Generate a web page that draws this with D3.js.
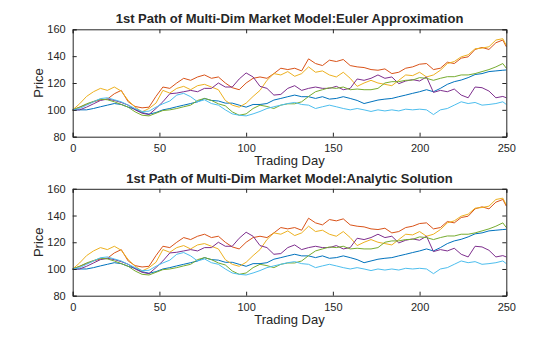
<!DOCTYPE html>
<html><head><meta charset="utf-8">
<script src="https://cdn.jsdelivr.net/npm/d3@7"></script>
<style>
html,body{margin:0;padding:0;background:#fff;}
svg{display:block;font-family:"Liberation Sans",Arial,Helvetica,sans-serif;}
</style></head>
<body>
<svg id="chart" width="560" height="337"></svg>
<script>
// ---- Data ----
const days = [0,4,8,12,16,20,24,28,32,36,40,44,48,52,56,60,64,68,72,76,80,84,88,92,96,100,104,108,112,116,120,124,128,132,136,140,144,148,152,156,160,164,168,172,176,180,184,188,192,196,200,204,208,212,216,220,224,228,232,236,240,244,248,250];
const asset1 = [100,100,100,101,102.3,103.5,104.7,104,102,100.5,98,96.8,98,100,101,102.3,103.5,104.7,106,108.5,107,106.6,105,105,103.5,102,104,104,104.7,107.3,108.5,109.8,111,109.8,109.8,108.5,109.8,108,108.5,109.8,108.5,107,104.7,106,107.3,108,108.5,109.8,111,112.3,113.5,115,113.5,116,119,121,122.2,124,126.3,127,128.5,129,129.5,129.7];
const asset2 = [100,102,104,106,107.5,108,112,114.5,106,102.5,101.5,102,110,117,116,120,123.5,122,124.5,126,123.5,124.5,120,116.5,115,120,123.5,124.5,123.5,127,131,130,131,129,138,134.5,133,137,136,137.5,133,132,131.5,130,129.5,130.5,127,128,131,132,134,134.5,130,131,135.5,134.5,138.5,139.5,145,146.5,145,150,152,147];
const asset3 = [100,104.5,110,113.5,116,114.5,117,114,107,102,98.5,101,105,114.5,112.5,116,117.5,115,118,119,117,115,107,103.5,102,105,110,114.5,122,127,126,128.5,125,127,132,128,129,126,124.5,128,123.5,117.5,120,122,120,119,118,122,126,125.5,128,124.5,126,129.5,134.5,136,139.5,141,145.5,146,147,152,153,148];
const asset4 = [100,100,102,104.5,107,108,107,105.5,103.5,100,97.5,96.5,101,106,112,112.5,113.5,114.5,113.5,116,116,120,117,117,123,127.5,124.5,117.5,116,111,111.5,116,118,114.5,116,117,116,116,117.5,115,116,123,122,123.5,126,123.5,124.5,119.5,121.5,122.5,121.5,124.5,113,114.5,113.5,115.5,111,109,117,116.5,114,109,110,109];
const asset5 = [100,102,104.5,106.3,108,107.5,106,104,102,98.5,96,95.5,97.5,99.5,100,101,102.3,103.5,107,108.5,107,104.5,103,98.5,96,97,101,103.5,102.5,101,103.5,104.5,104.5,106,110,113.5,115,116.5,116,117,115,115.5,115,115,116,120,121,121,122,122.2,124,123.5,122,123.5,124.7,124.7,126,126,127,128.5,130,132,134.5,131];
const asset6 = [100,101,103.5,106,108.4,109,107.5,106,103.5,101,98.8,99,102,104.5,106.6,111,112.3,109.8,106,107.5,104.7,103.5,100,97,96,95.5,97,98.8,101,102.3,103.5,104.7,105.5,104,103.5,101,102.3,103.5,102.3,101,100,101,100,98.8,100,99.2,100,99.2,100.5,100,100.5,100,96.5,100,101,103.5,106,104.7,105.5,103.5,104,104.7,106,104];
const seriesList = [asset1, asset2, asset3, asset4, asset5, asset6];
const colors = ["#0072BD","#D95319","#EDB120","#7E2F8E","#77AC30","#4DBEEE"];
const xTicks = [0,50,100,150,200,250];
const yTicks = [80,100,120,140,160];
const titles = ["1st Path of Multi-Dim Market Model:Euler Approximation","1st Path of Multi-Dim Market Model:Analytic Solution"];

// ---- Drawing ----
const svg = d3.select("#chart");
const axCol = "#262626";
const panels = [{top:29.3,bottom:136.7},{top:188.8,bottom:295.7}];
const left = 72.7, right = 506.3;

panels.forEach((p,i)=>{
  const x = d3.scaleLinear().domain([0,250]).range([left,right]);
  const y = d3.scaleLinear().domain([80,160]).range([p.bottom,p.top]);
  const g = svg.append("g");

  const line = d3.line().x((d,j)=>x(days[j])).y(d=>y(d));
  seriesList.forEach((s,k)=>{
    g.append("path").datum(s).attr("d",line)
      .attr("fill","none").attr("stroke",colors[k]).attr("stroke-width",1)
      .attr("stroke-linejoin","round");
  });

  // axes
  const ax = g.append("g").attr("transform",`translate(0,${p.bottom})`)
    .call(d3.axisBottom(x).tickValues(xTicks).tickSize(-4).tickPadding(8).tickFormat(d3.format("d")));
  const axTop = g.append("g").attr("transform",`translate(0,${p.top})`)
    .call(d3.axisTop(x).tickValues(xTicks).tickSize(-4).tickFormat(""));
  const ay = g.append("g").attr("transform",`translate(${left},0)`)
    .call(d3.axisLeft(y).tickValues(yTicks).tickSize(-4).tickPadding(7).tickFormat(d3.format("d")));
  const ayR = g.append("g").attr("transform",`translate(${right},0)`)
    .call(d3.axisRight(y).tickValues(yTicks).tickSize(-4).tickFormat(""));
  [ax,axTop,ay,ayR].forEach(a=>{
    a.select(".domain").attr("stroke",axCol).attr("stroke-width",1);
    a.selectAll(".tick line").attr("stroke",axCol);
    a.selectAll(".tick text").attr("fill",axCol).style("font-size","11px")
      .style("font-family","'Liberation Sans',Arial,sans-serif");
  });

  g.append("text").attr("x",(left+right)/2).attr("y",p.top-6)
    .attr("text-anchor","middle").attr("fill",axCol)
    .style("font-size","13px").style("font-weight","bold").text(titles[i]);
  g.append("text").attr("x",(left+right)/2).attr("y",p.bottom+28.5)
    .attr("text-anchor","middle").attr("fill",axCol)
    .style("font-size","13px").text("Trading Day");
  g.append("text").attr("transform",`translate(43,${(p.top+p.bottom)/2}) rotate(-90)`)
    .attr("text-anchor","middle").attr("fill",axCol)
    .style("font-size","13px").text("Price");
});
</script>
</body></html>
